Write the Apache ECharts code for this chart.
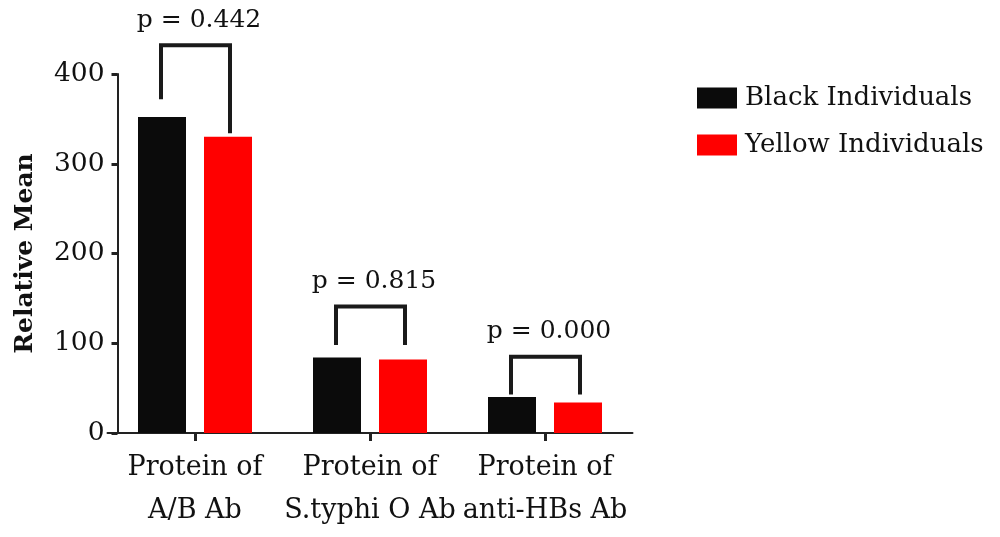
<!DOCTYPE html>
<html><head><meta charset="utf-8">
<script src="https://cdn.jsdelivr.net/npm/echarts@6/dist/echarts.min.js"></script>
<style>html,body{margin:0;padding:0;background:#fff}#c{width:1000px;height:537px}</style>
</head><body><div id="c"></div>
<script>
const categories = ['Protein of\nA/B Ab', 'Protein of\nS.typhi O Ab', 'Protein of\nanti-HBs Ab'];
const blackValues = [352, 84, 40];
const yellowValues = [330, 82, 34];
const yTicks = [0, 100, 200, 300, 400];
// brackets: [category index, top value, left leg end value, right leg end value]
const bracketTop = [432, 141, 85];
const bracketLeftEnd = [372, 98, 43];
const bracketRightEnd = [334, 98, 43];
const pLabels = ['p = 0.442', 'p = 0.815', 'p = 0.000'];

const FONT = 'DejaVu Serif';
const chart = echarts.init(document.getElementById('c'), null, {renderer: 'canvas'});
const bracketData = categories.map((c, i) => [i, bracketTop[i], bracketLeftEnd[i], bracketRightEnd[i]]);

chart.setOption({
  animation: false,
  backgroundColor: '#fff',
  textStyle: {fontFamily: FONT, color: '#111'},
  grid: {left: 107.5, right: 367.5, top: 74, bottom: 104, containLabel: false},
  legend: {
    orient: 'vertical', left: 697, top: 85, icon: 'rect', padding: 0,
    itemWidth: 40, itemHeight: 21, itemGap: 21,
    textStyle: {fontFamily: FONT, fontSize: 26, color: '#111', padding: [0, 0, 0, 3]},
    data: ['Black Individuals', 'Yellow Individuals']
  },
  xAxis: {
    type: 'category', data: categories,
    axisLine: {lineStyle: {color: '#222', width: 2}},
    axisTick: {show: true, alignWithLabel: true, length: 8, lineStyle: {color: '#222', width: 3}},
    axisLabel: {interval: 0, fontFamily: FONT, fontSize: 27, color: '#111', lineHeight: 43, margin: 13}
  },
  yAxis: {
    type: 'value', min: 0, max: 400, interval: 100, offset: -10,
    name: 'Relative Mean', nameLocation: 'middle', nameGap: 80, nameRotate: 90,
    nameTextStyle: {fontFamily: FONT, fontSize: 25, fontWeight: 'bold', color: '#111'},
    axisLine: {show: true, lineStyle: {color: '#222', width: 2}},
    axisTick: {show: true, length: 6, lineStyle: {color: '#222', width: 3}},
    axisLabel: {fontFamily: FONT, fontSize: 26.5, color: '#111', margin: 13,
      formatter: v => yTicks.includes(v) ? String(v) : ''},
    splitLine: {show: false}
  },
  series: [
    {name: 'Black Individuals', type: 'bar', data: blackValues, barWidth: 48, barGap: '37.5%',
      itemStyle: {color: '#0b0b0b'}},
    {name: 'Yellow Individuals', type: 'bar', data: yellowValues, barWidth: 48,
      itemStyle: {color: '#ff0000'}},
    {type: 'custom', data: bracketData, z: 10, silent: true,
      renderItem: function (params, api) {
        const i = api.value(0);
        const top = api.coord([i, api.value(1)]);
        const l = api.coord([i, api.value(2)]);
        const r = api.coord([i, api.value(3)]);
        const xl = top[0] - 34, xr = top[0] + 35;
        return {type: 'group', children: [
          {type: 'polyline', shape: {points: [[xl, l[1]], [xl, top[1]], [xr, top[1]], [xr, r[1]]]},
            style: {stroke: '#1a1a1a', lineWidth: 4, fill: null}},
          {type: 'text', style: {text: pLabels[i], x: top[0] + 4, y: top[1] - 25,
            align: 'center', verticalAlign: 'middle', font: '25px "' + FONT + '"', fill: '#111'}}
        ]};
      }}
  ]
});
</script></body></html>
